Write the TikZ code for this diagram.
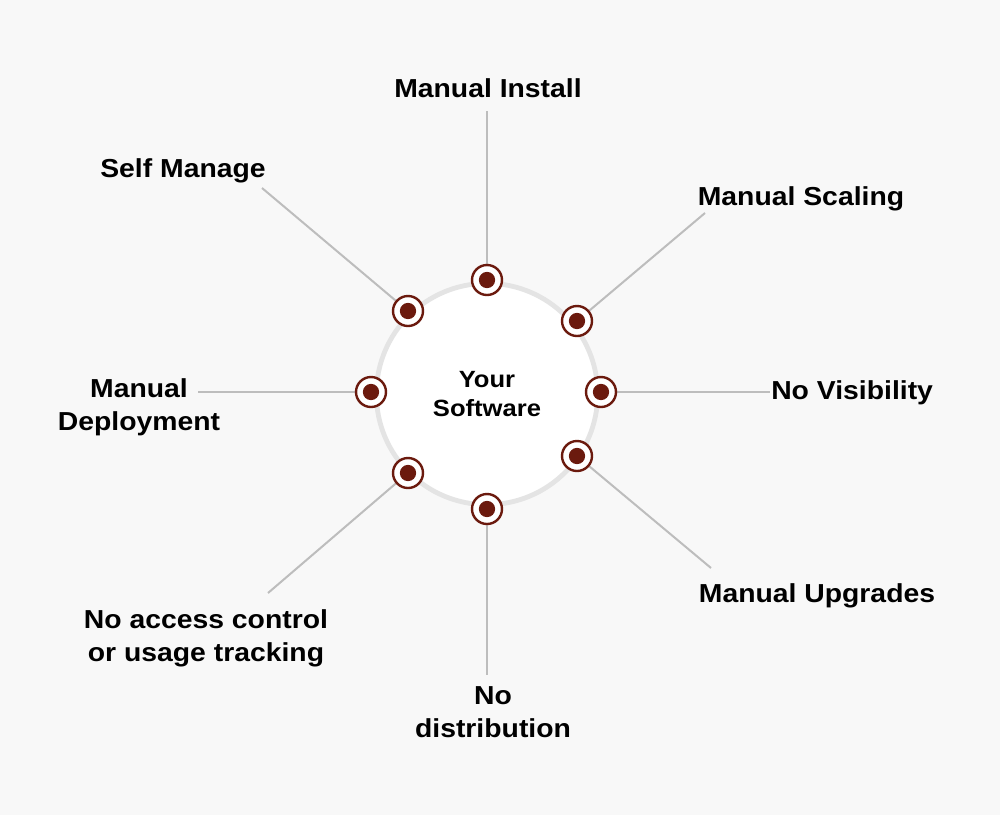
\documentclass[tikz,border=0pt]{standalone}
\usepackage{fontspec}
\setmainfont[FakeStretch=1.09]{Liberation Sans}
\definecolor{bg}{HTML}{F8F8F8}
\definecolor{ringgray}{HTML}{E4E4E4}
\definecolor{linegray}{HTML}{BDBDBD}
\definecolor{dotred}{HTML}{6B1A0E}
\pgfdeclarelayer{bglayer}
\pgfdeclarelayer{linelayer}
\pgfsetlayers{bglayer,linelayer,main}
\tikzset{
  lbl/.style={inner sep=0pt, align=center, font=\fontsize{19.5}{24.75}\selectfont\bfseries, text=black},
  conn/.style={draw=linegray, line width=1.5pt},
  marker/.style={circle, draw=dotred, fill=white, line width=1.8pt, minimum size=22.5pt, inner sep=0pt,
    path picture={\fill[dotred] (path picture bounding box.center) circle (6.1pt);}},
}
\begin{document}
\begin{tikzpicture}[x=0.75pt, y=-0.75pt]
\useasboundingbox (0,0) rectangle (1000,815);
\begin{pgfonlayer}{bglayer}
\fill[bg] (0,0) rectangle (1000,815);
\end{pgfonlayer}
% centre circle
\node[circle, draw=ringgray, fill=white, line width=3.6pt, minimum size=166pt, inner sep=0pt,
  font=\fontsize{17.6}{21.75}\selectfont\bfseries, align=center] (core) at (487,394) {Your\\Software};
% markers
\node[marker] (m1) at (487,280) {};
\node[marker] (m2) at (577,321) {};
\node[marker] (m3) at (601,392) {};
\node[marker] (m4) at (577,456) {};
\node[marker] (m5) at (487,509) {};
\node[marker] (m6) at (408,473) {};
\node[marker] (m7) at (371,392) {};
\node[marker] (m8) at (408,311) {};
% free ends
\coordinate (e1) at (487,111);
\coordinate (e2) at (705,213);
\coordinate (e3) at (770,392);
\coordinate (e4) at (711,568);
\coordinate (e5) at (487,675);
\coordinate (e6) at (268,593);
\coordinate (e7) at (198,392);
\coordinate (e8) at (262,188);
\begin{pgfonlayer}{linelayer}
\foreach \i in {1,...,8} {\draw[conn] (m\i.center) -- (e\i);}
\end{pgfonlayer}
% labels
\node[lbl, anchor=base] (t1) at (488,97) {Manual Install};
\node[lbl, anchor=base] (t2) at (801,205) {Manual Scaling};
\node[lbl, anchor=base west] (t3) at (771,399) {No Visibility};
\node[lbl, anchor=base] (t4) at (817,602) {Manual Upgrades};
\node[lbl, anchor=base] (t5) at (493,737) {No\\distribution};
\node[lbl, anchor=base] (t6) at (206,661) {No access control\\or usage tracking};
\node[lbl, anchor=base] (t7) at (139,430) {Manual\\Deployment};
\node[lbl, anchor=base] (t8) at (183,177) {Self Manage};
\end{tikzpicture}
\end{document}
